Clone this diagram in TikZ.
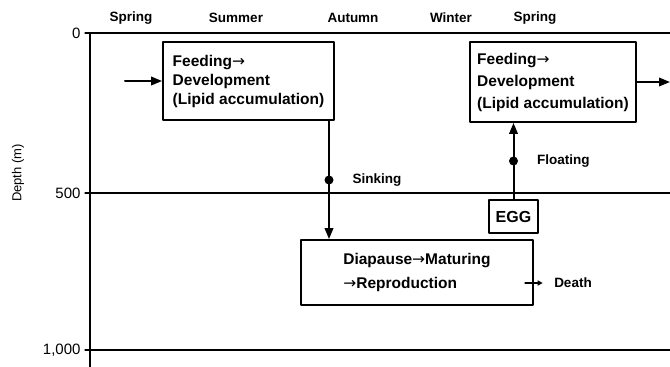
\documentclass[tikz,border=0pt]{standalone}
\usepackage{fontspec}
\setmainfont{Liberation Sans}
\newfontfamily\arrowfont{DejaVu Sans}
\newcommand{\rarr}{{\arrowfont\mdseries →}}
\usetikzlibrary{arrows.meta,positioning,calc}

\begin{document}
\begin{tikzpicture}[line cap=round,line join=round,>={Triangle[length=11pt,width=8.5pt]},x=1pt,y=-1pt,
    stage/.style={draw,line width=1.8pt,align=left,inner sep=0pt,font=\bfseries\fontsize{15.5}{19}\selectfont},
    season/.style={font=\bfseries\fontsize{13.5}{13.5}\selectfont},
    depthlbl/.style={anchor=east,font=\fontsize{15}{15}\selectfont},
    flow/.style={line width=2pt,->}]
    \useasboundingbox (0,0) rectangle (670,367);
    \draw [line width=1.8pt] (90,33) -- (90,367);
    \draw [line width=1.1pt] (85,33) -- (670,33);
    \draw [line width=1.1pt] (85,193) -- (670,193);
    \draw [line width=1.1pt] (85,350) -- (670,350);
    \node[depthlbl] (d0) at (84,33) {0};
    \node[depthlbl] (d500) at (84,193) {500};
    \node[depthlbl] (d1000) at (84,350) {1,000};
    \node[rotate=90,font=\fontsize{13}{13}\selectfont] (depth) at (18,173) {Depth (m)};
    \node[season] (spring1) at (131,18) {Spring};
    \node[season] (summer) at (236,18) {Summer};
    \node[season] (autumn) at (353,18) {Autumn};
    \node[season] (winter) at (451,18) {Winter};
    \node[season] (spring2) at (535,18) {Spring};
    \node[stage,minimum width=171pt,minimum height=78pt] (box1) at (248.5,81) {Feeding\rarr\\Development\\(Lipid accumulation)};
    \node[stage,minimum width=166pt,minimum height=80pt,font=\bfseries\fontsize{15.5}{22}\selectfont] (box3) at (553,82) {Feeding\rarr\\Development\\(Lipid accumulation)};
    \node[stage,minimum width=232pt,minimum height=65pt,font=\bfseries\fontsize{15.5}{24}\selectfont] (box2) at (417,272.5) {Diapause\rarr Maturing\\\rarr Reproduction};
    \node[stage,minimum width=49pt,minimum height=33pt,font=\bfseries\fontsize{16}{16}\selectfont] (egg) at (513.5,216.5) {EGG};
    \node[season] (death) at (573,283) {Death};
    \coordinate (instart) at (125,81);
    \coordinate (sink) at (329,0);
    \coordinate (outend) at (670,0);
    \coordinate (dstart) at (525,283);
    \draw[flow] (instart) -- (box1.west);
    \draw[flow] (box1.south -| sink) -- (box2.north -| sink) coordinate[pos=0.5] (sinkdot);
    \draw[flow] (egg.north) -- (egg.north |- box3.south) coordinate[pos=0.5] (floatdot);
    \draw[flow] (box3.east) -- (box3.east -| outend);
    \draw[line width=1.2pt,-{Triangle[length=5pt,width=5pt]},shorten >=8pt] (dstart) -- (death.west);
    \fill (sinkdot) circle (4.5);
    \fill (floatdot) circle (4.5);
    \node[season,right=20pt of sinkdot] (sinking) {Sinking};
    \node[season,right=20pt of floatdot] (floating) {Floating};
\end{tikzpicture}
\end{document}
